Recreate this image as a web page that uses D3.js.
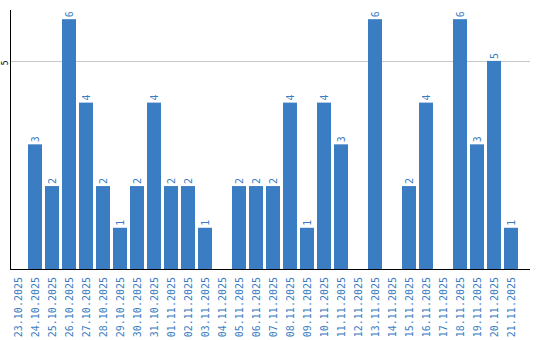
<!DOCTYPE html>
<html lang="en">
<head>
    <meta charset="UTF-8">
    <title>Daily counts</title>
    <script src="https://d3js.org/d3.v7.min.js"></script>
    <style>
        body { margin: 0; background: #fff; }
    </style>
</head>
<body>
<svg id="chart" width="540" height="340"></svg>

<script>
    const days = [
        "23.10.2025", "24.10.2025", "25.10.2025", "26.10.2025", "27.10.2025",
        "28.10.2025", "29.10.2025", "30.10.2025", "31.10.2025", "01.11.2025",
        "02.11.2025", "03.11.2025", "04.11.2025", "05.11.2025", "06.11.2025",
        "07.11.2025", "08.11.2025", "09.11.2025", "10.11.2025", "11.11.2025",
        "12.11.2025", "13.11.2025", "14.11.2025", "15.11.2025", "16.11.2025",
        "17.11.2025", "18.11.2025", "19.11.2025", "20.11.2025", "21.11.2025"
    ];
    const counts = [0, 3, 2, 6, 4, 2, 1, 2, 4, 2, 2, 1, 0, 2, 2, 2, 4, 1, 4, 3, 0, 6, 0, 2, 4, 0, 6, 3, 5, 1];
    const yTicks = [5];

    const blue = "#3a7dc2";
    const plotLeft = 11, plotRight = 530, plotTop = 10, plotBottom = 269.5;

    const svg = d3.select("#chart");

    const x = d3.scaleBand()
        .domain(days)
        .range([plotLeft, 518])
        .paddingInner(3 / 17)
        .paddingOuter(0);

    const y = d3.scaleLinear()
        .domain([0, 6.22])
        .range([plotBottom, plotTop]);

    const bars = counts.map((v, i) => ({ day: days[i], v: v })).filter(d => d.v > 0);

    // grid
    svg.append("g")
        .selectAll("line")
        .data(yTicks).enter()
        .append("line")
        .attr("x1", plotLeft).attr("x2", plotRight)
        .attr("y1", d => Math.round(y(d)) + 0.5)
        .attr("y2", d => Math.round(y(d)) + 0.5)
        .attr("stroke", "#c8c8c8");

    // bars
    svg.append("g")
        .selectAll("rect")
        .data(bars).enter()
        .append("rect")
        .attr("x", d => x(d.day))
        .attr("y", d => y(d.v))
        .attr("width", x.bandwidth())
        .attr("height", d => plotBottom - y(d.v))
        .attr("fill", blue);

    // value labels
    svg.append("g")
        .selectAll("text")
        .data(bars).enter()
        .append("text")
        .attr("transform", d => "translate(" + (x(d.day) + x.bandwidth() / 2 + 4) + "," + (y(d.v) - 2) + ") rotate(-90)")
        .attr("font-family", "DejaVu Sans Mono")
        .attr("font-size", 10)
        .attr("fill", blue)
        .text(d => d.v);

    // axis lines
    svg.append("line")
        .attr("x1", 10.5).attr("x2", 10.5)
        .attr("y1", plotTop).attr("y2", plotBottom + 0.5)
        .attr("stroke", "#000");
    svg.append("line")
        .attr("x1", 10).attr("x2", plotRight)
        .attr("y1", plotBottom).attr("y2", plotBottom)
        .attr("stroke", "#000");

    // y tick labels
    svg.append("g")
        .selectAll("text")
        .data(yTicks).enter()
        .append("text")
        .attr("transform", d => "translate(7.5," + (y(d) + 2) + ") rotate(-90)")
        .attr("text-anchor", "middle")
        .attr("font-family", "DejaVu Sans Mono")
        .attr("font-size", 8)
        .attr("fill", "#000")
        .text(d => d);

    // x labels
    svg.append("g")
        .selectAll("text")
        .data(days).enter()
        .append("text")
        .attr("transform", d => "translate(" + (x(d) + x.bandwidth() / 2 + 4) + ",277) rotate(-90)")
        .attr("text-anchor", "end")
        .attr("font-family", "DejaVu Sans Mono")
        .attr("font-size", 10)
        .attr("fill", blue)
        .text(d => d);
</script>
</body>
</html>
